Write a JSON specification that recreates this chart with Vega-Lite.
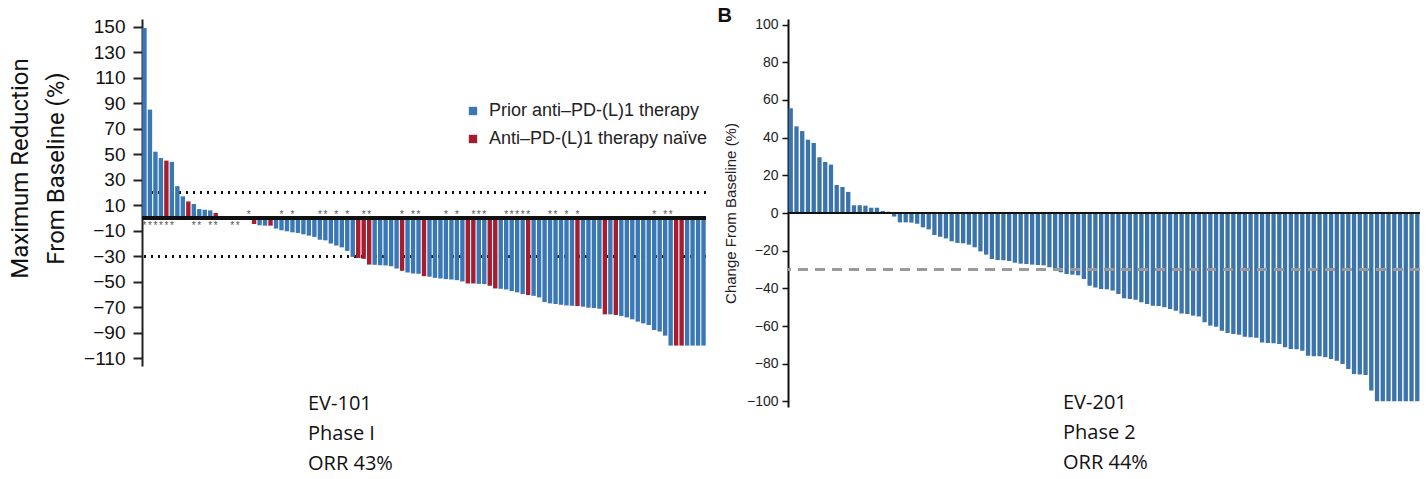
{
  "$schema": "https://vega.github.io/schema/vega-lite/v6.json",
  "padding": {"left": 8, "top": 5, "right": 6, "bottom": 4},
  "bounds": "flush",
  "spacing": 82,
  "config": {"view": {"stroke": null}, "font": "Liberation Sans"},
  "title": {"text": "B", "anchor": "start", "dx": 709, "offset": -8, "fontSize": 20, "fontWeight": "bold", "font": "Liberation Sans", "color": "#111"},
  "datasets": {
    "ev101": [
      {"id":1,"v":149,"g":"P","s":1},{"id":2,"v":85,"g":"P","s":1},{"id":3,"v":52,"g":"P","s":1},{"id":4,"v":47,"g":"P","s":1},{"id":5,"v":45,"g":"N","s":1},
      {"id":6,"v":44,"g":"P","s":1},{"id":7,"v":25,"g":"P","s":0},{"id":8,"v":17,"g":"P","s":0},{"id":9,"v":13,"g":"N","s":0},{"id":10,"v":11,"g":"P","s":1},
      {"id":11,"v":7,"g":"P","s":1},{"id":12,"v":6.5,"g":"P","s":0},{"id":13,"v":6,"g":"P","s":1},{"id":14,"v":4,"g":"N","s":1},{"id":15,"v":1.2,"g":"P","s":0},
      {"id":16,"v":0.5,"g":"P","s":0},{"id":17,"v":0.3,"g":"P","s":1},{"id":18,"v":0.3,"g":"P","s":1},{"id":19,"v":0,"g":"P","s":0},{"id":20,"v":-0.5,"g":"P","s":1},
      {"id":21,"v":-4.7,"g":"N","s":0},{"id":22,"v":-5.7,"g":"P","s":0},{"id":23,"v":-6,"g":"P","s":0},{"id":24,"v":-6,"g":"N","s":0},{"id":25,"v":-8.3,"g":"P","s":0},
      {"id":26,"v":-9.6,"g":"P","s":1},{"id":27,"v":-10.4,"g":"P","s":0},{"id":28,"v":-11.2,"g":"P","s":1},{"id":29,"v":-11.7,"g":"P","s":0},{"id":30,"v":-12.8,"g":"P","s":0},
      {"id":31,"v":-13.8,"g":"P","s":0},{"id":32,"v":-14.8,"g":"P","s":0},{"id":33,"v":-17,"g":"P","s":1},{"id":34,"v":-17.5,"g":"P","s":1},{"id":35,"v":-20,"g":"P","s":0},
      {"id":36,"v":-21.6,"g":"P","s":1},{"id":37,"v":-23,"g":"P","s":0},{"id":38,"v":-25.8,"g":"P","s":1},{"id":39,"v":-30.5,"g":"P","s":0},{"id":40,"v":-31.3,"g":"N","s":0},
      {"id":41,"v":-32,"g":"N","s":1},{"id":42,"v":-36.5,"g":"N","s":1},{"id":43,"v":-36.7,"g":"P","s":0},{"id":44,"v":-37,"g":"P","s":0},{"id":45,"v":-37.2,"g":"P","s":0},
      {"id":46,"v":-37.8,"g":"P","s":0},{"id":47,"v":-39.6,"g":"P","s":0},{"id":48,"v":-41.4,"g":"N","s":1},{"id":49,"v":-42.7,"g":"P","s":0},{"id":50,"v":-43.5,"g":"P","s":1},
      {"id":51,"v":-43.7,"g":"P","s":1},{"id":52,"v":-45.6,"g":"N","s":0},{"id":53,"v":-46,"g":"P","s":0},{"id":54,"v":-46.9,"g":"P","s":0},{"id":55,"v":-47.4,"g":"P","s":0},
      {"id":56,"v":-47.9,"g":"P","s":1},{"id":57,"v":-48.2,"g":"P","s":0},{"id":58,"v":-48.7,"g":"P","s":1},{"id":59,"v":-49.7,"g":"P","s":0},{"id":60,"v":-51.3,"g":"N","s":0},
      {"id":61,"v":-51.3,"g":"N","s":1},{"id":62,"v":-51.6,"g":"P","s":1},{"id":63,"v":-51.8,"g":"P","s":1},{"id":64,"v":-53.1,"g":"N","s":0},{"id":65,"v":-55.2,"g":"N","s":0},
      {"id":66,"v":-55.5,"g":"P","s":0},{"id":67,"v":-56,"g":"P","s":1},{"id":68,"v":-57.3,"g":"P","s":1},{"id":69,"v":-58.3,"g":"P","s":1},{"id":70,"v":-59.6,"g":"P","s":1},
      {"id":71,"v":-60.4,"g":"N","s":1},{"id":72,"v":-61,"g":"P","s":0},{"id":73,"v":-62.2,"g":"P","s":0},{"id":74,"v":-65.9,"g":"P","s":0},{"id":75,"v":-66.9,"g":"P","s":1},
      {"id":76,"v":-67.4,"g":"P","s":1},{"id":77,"v":-68,"g":"P","s":0},{"id":78,"v":-68.5,"g":"P","s":1},{"id":79,"v":-68.8,"g":"P","s":0},{"id":80,"v":-69,"g":"N","s":1},
      {"id":81,"v":-69.5,"g":"P","s":0},{"id":82,"v":-70.3,"g":"P","s":0},{"id":83,"v":-70.6,"g":"P","s":0},{"id":84,"v":-71.1,"g":"P","s":0},{"id":85,"v":-75.5,"g":"N","s":0},
      {"id":86,"v":-75.5,"g":"P","s":0},{"id":87,"v":-76,"g":"N","s":0},{"id":88,"v":-76.8,"g":"P","s":0},{"id":89,"v":-77.9,"g":"P","s":0},{"id":90,"v":-79.4,"g":"P","s":0},
      {"id":91,"v":-81.2,"g":"P","s":0},{"id":92,"v":-82.6,"g":"P","s":0},{"id":93,"v":-83.9,"g":"P","s":0},{"id":94,"v":-87.8,"g":"P","s":1},{"id":95,"v":-89,"g":"P","s":0},
      {"id":96,"v":-92.2,"g":"P","s":1},{"id":97,"v":-100,"g":"P","s":1},{"id":98,"v":-100,"g":"N","s":0},{"id":99,"v":-100,"g":"N","s":0},{"id":100,"v":-100,"g":"P","s":0},
      {"id":101,"v":-100,"g":"P","s":0},{"id":102,"v":-100,"g":"P","s":0},{"id":103,"v":-100,"g":"P","s":0}
    ],
    "ev201": [
      {"id":1,"v":55.6},{"id":2,"v":46},{"id":3,"v":43.5},{"id":4,"v":38.9},{"id":5,"v":37.2},{"id":6,"v":29.6},{"id":7,"v":27.1},{"id":8,"v":25.7},{"id":9,"v":14.9},{"id":10,"v":13.8},
      {"id":11,"v":11.2},{"id":12,"v":4.1},{"id":13,"v":4.1},{"id":14,"v":3.9},{"id":15,"v":2.8},{"id":16,"v":2.8},{"id":17,"v":1.1},{"id":18,"v":0.7},{"id":19,"v":-1.9},{"id":20,"v":-5},
      {"id":21,"v":-5},{"id":22,"v":-5.1},{"id":23,"v":-5.7},{"id":24,"v":-7.6},{"id":25,"v":-8.7},{"id":26,"v":-11.7},{"id":27,"v":-12.6},{"id":28,"v":-13.5},{"id":29,"v":-15},{"id":30,"v":-15.9},
      {"id":31,"v":-16.1},{"id":32,"v":-16.8},{"id":33,"v":-18.2},{"id":34,"v":-20.4},{"id":35,"v":-22.1},{"id":36,"v":-24.4},{"id":37,"v":-25},{"id":38,"v":-25.1},{"id":39,"v":-25.5},{"id":40,"v":-26.4},
      {"id":41,"v":-26.9},{"id":42,"v":-27.1},{"id":43,"v":-27.4},{"id":44,"v":-27.6},{"id":45,"v":-27.8},{"id":46,"v":-28.8},{"id":47,"v":-29.7},{"id":48,"v":-31.5},{"id":49,"v":-32.4},{"id":50,"v":-32.7},
      {"id":51,"v":-33},{"id":52,"v":-35},{"id":53,"v":-38.6},{"id":54,"v":-39.5},{"id":55,"v":-40.4},{"id":56,"v":-40.5},{"id":57,"v":-41.2},{"id":58,"v":-43},{"id":59,"v":-45.3},{"id":60,"v":-45.7},
      {"id":61,"v":-46},{"id":62,"v":-47.4},{"id":63,"v":-48.3},{"id":64,"v":-49.2},{"id":65,"v":-49.4},{"id":66,"v":-50.1},{"id":67,"v":-51},{"id":68,"v":-51.9},{"id":69,"v":-53.3},{"id":70,"v":-53.6},
      {"id":71,"v":-54.5},{"id":72,"v":-54.9},{"id":73,"v":-58},{"id":74,"v":-59.8},{"id":75,"v":-60.4},{"id":76,"v":-62.5},{"id":77,"v":-63.7},{"id":78,"v":-64.2},{"id":79,"v":-64.6},{"id":80,"v":-65.7},
      {"id":81,"v":-66},{"id":82,"v":-66.2},{"id":83,"v":-68.7},{"id":84,"v":-69},{"id":85,"v":-69.2},{"id":86,"v":-69.6},{"id":87,"v":-71.3},{"id":88,"v":-72.2},{"id":89,"v":-72.4},{"id":90,"v":-73.1},
      {"id":91,"v":-75.8},{"id":92,"v":-76.1},{"id":93,"v":-76.1},{"id":94,"v":-76.6},{"id":95,"v":-77.5},{"id":96,"v":-78.4},{"id":97,"v":-80.2},{"id":98,"v":-82.8},{"id":99,"v":-85.5},{"id":100,"v":-85.8},
      {"id":101,"v":-86},{"id":102,"v":-94.3},{"id":103,"v":-100},{"id":104,"v":-100},{"id":105,"v":-100},{"id":106,"v":-100},{"id":107,"v":-100},{"id":108,"v":-100},{"id":109,"v":-100},{"id":110,"v":-100}
    ]
  },
  "hconcat": [
    {
      "width": 564,
      "height": 347,
      "data": {"name": "ev101"},
      "title": {"text": ["EV-101", "Phase I", "ORR 43%"], "orient": "bottom", "anchor": "start", "frame": "group", "align": "left", "dx": 166, "offset": 26, "fontSize": 20, "fontWeight": "normal", "font": "Open Sans", "lineHeight": 30, "color": "#111"},
      "encoding": {
        "x": {"field": "id", "type": "ordinal", "axis": null, "scale": {"paddingInner": 0.2, "paddingOuter": 0.05}}
      },
      "layer": [
        {"mark": {"type": "rule", "strokeDash": [2, 5], "strokeWidth": 2, "color": "#111"}, "encoding": {"y": {"datum": 20}, "x": null}},
        {"mark": {"type": "rule", "strokeDash": [2, 5], "strokeWidth": 2, "color": "#111"}, "encoding": {"y": {"datum": -30}, "x": null}},
        {
          "mark": {"type": "bar"},
          "encoding": {
            "y": {"field": "v", "type": "quantitative", "scale": {"domain": [-116, 156], "nice": false},
              "axis": {"values": [-110,-90,-70,-50,-30,-10,10,30,50,70,90,110,130,150], "tickCount": 40, "labelOverlap": false, "title": ["Maximum Reduction", "From Baseline (%)"],
                "titleFont": "Roboto", "titleFontSize": 24, "titleFontWeight": "normal", "titleLineHeight": 36, "titlePadding": 15, "titleColor": "#111", "titleY": 149,
                "labelFontSize": 19, "labelColor": "#111", "labelPadding": 8, "labelFont": "Liberation Sans",
                "domainColor": "#222", "domainWidth": 2, "tickColor": "#222", "tickWidth": 2, "tickSize": 9, "grid": false}},
            "y2": {"datum": 0},
            "color": {"field": "g", "type": "nominal", "scale": {"domain": ["P", "N"], "range": ["#3a78b5", "#a51d2f"]},
              "legend": {"title": null, "orient": "none", "legendX": 322, "legendY": 83, "symbolType": "square", "symbolSize": 70, "symbolStrokeWidth": 0,
                "labelFontSize": 18, "labelColor": "#222", "labelFont": "Liberation Sans", "labelLimit": 400, "rowPadding": 10, "labelOffset": 7,
                "labelExpr": "datum.label == 'P' ? 'Prior anti\u2013PD-(L)1 therapy' : 'Anti\u2013PD-(L)1 therapy na\u00efve'"}}
          }
        },
        {"mark": {"type": "rule", "strokeWidth": 2.5, "color": "#111"}, "encoding": {"y": {"datum": 0}, "x": null}},
        {
          "transform": [{"filter": "datum.s == 1 && datum.v > 0"}],
          "mark": {"type": "text", "text": "*", "fontSize": 10, "color": "#555", "dy": 8},
          "encoding": {"y": {"datum": 0}}
        },
        {
          "transform": [{"filter": "datum.s == 1 && datum.v <= 0"}],
          "mark": {"type": "text", "text": "*", "fontSize": 10, "color": "#555", "dy": -3},
          "encoding": {"y": {"datum": 0}}
        }
      ]
    },
    {
      "width": 632,
      "height": 388,
      "data": {"name": "ev201"},
      "title": {"text": ["EV-201", "Phase 2", "ORR 44%"], "orient": "bottom", "anchor": "start", "frame": "group", "align": "left", "dx": 275, "offset": -15, "fontSize": 20, "fontWeight": "normal", "font": "Open Sans", "lineHeight": 30, "color": "#111"},
      "encoding": {
        "x": {"field": "id", "type": "ordinal", "axis": null, "scale": {"paddingInner": 0.25, "paddingOuter": 0.1}}
      },
      "layer": [
        {
          "mark": {"type": "bar", "color": "#3b74aa"},
          "encoding": {
            "y": {"field": "v", "type": "quantitative", "scale": {"domain": [-103, 103], "nice": false},
              "axis": {"values": [-100,-80,-60,-40,-20,0,20,40,60,80,100], "tickCount": 40, "labelOverlap": false, "title": "Change From Baseline (%)",
                "titleFont": "Liberation Sans", "titleFontSize": 15, "titleFontWeight": "normal", "titlePadding": 8, "titleColor": "#222",
                "labelFontSize": 14, "labelColor": "#222", "labelPadding": 4,
                "domainColor": "#111", "domainWidth": 2, "tickColor": "#111", "tickWidth": 1.5, "tickSize": 6, "grid": false}},
            "y2": {"datum": 0}
          }
        },
        {"mark": {"type": "rule", "strokeWidth": 1.5, "color": "#111"}, "encoding": {"y": {"datum": 0}, "x": null}},
        {"mark": {"type": "rule", "strokeDash": [10, 7], "strokeWidth": 2, "color": "#9a9a9a"}, "encoding": {"y": {"datum": -30}, "x": null}}
      ]
    }
  ]
}
